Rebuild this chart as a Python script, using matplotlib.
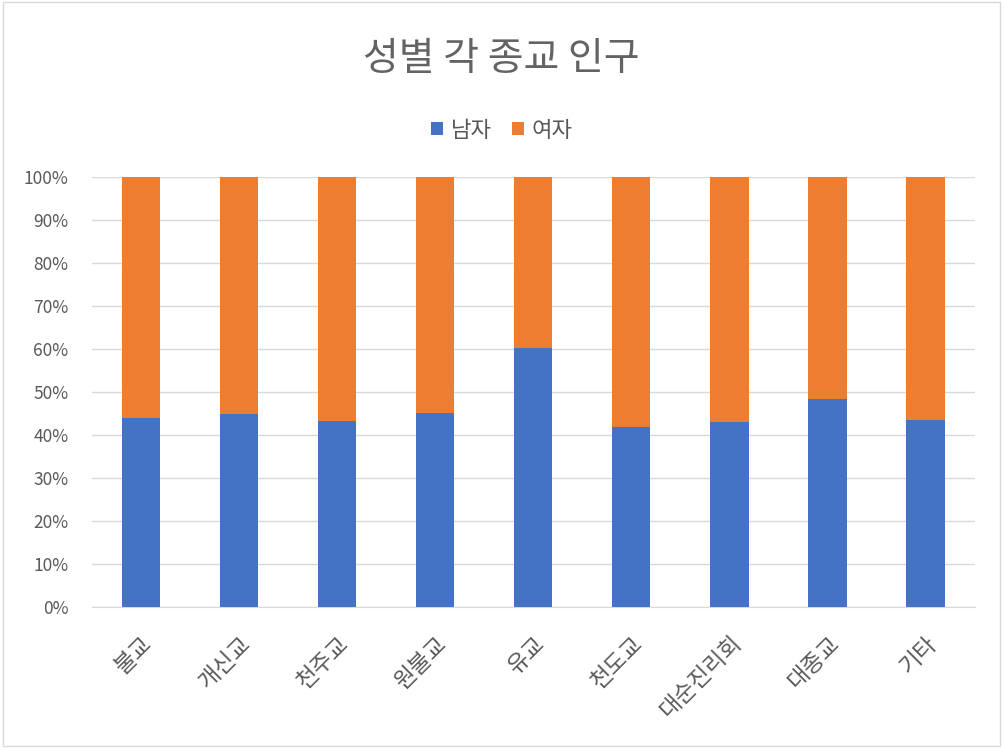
import matplotlib
matplotlib.use("Agg")
import matplotlib.pyplot as plt
from matplotlib.ticker import PercentFormatter
import numpy as np

plt.rcParams['font.family'] = ['Noto Sans CJK KR', 'DejaVu Sans']

religions = ["불교", "개신교", "천주교", "원불교", "유교", "천도교", "대순진리회", "대종교", "기타"]
male_pct = [43.9, 44.9, 43.3, 45.2, 60.2, 41.9, 43.1, 48.4, 43.5]
female_pct = [100 - v for v in male_pct]

blue = "#4472C4"
orange = "#ED7D31"
gray = "#595959"


def main():
    fig = plt.figure(figsize=(10.03, 7.48), dpi=100)
    ax = fig.add_axes([0.0917, 0.189, 0.880, 0.574])

    x = np.arange(len(religions))
    ax.bar(x, male_pct, width=0.39, color=blue, label="남자", zorder=3)
    ax.bar(x, female_pct, width=0.39, bottom=male_pct, color=orange, label="여자", zorder=3)

    ax.set_xlim(-0.5, len(religions) - 0.5)
    ax.set_ylim(0, 100)
    ax.set_yticks(np.arange(0, 101, 10))
    ax.yaxis.set_major_formatter(PercentFormatter(decimals=0))
    ax.grid(axis="y", color="#D9D9D9", lw=1, zorder=0)
    for s in ["top", "right", "left"]:
        ax.spines[s].set_visible(False)
    ax.spines["bottom"].set_color("#D9D9D9")
    ax.tick_params(axis="both", length=0, colors=gray, labelsize=12.5)
    ax.tick_params(axis="y", pad=17)
    ax.tick_params(axis="x", pad=18)
    ax.set_xticks(x)
    ax.set_xticklabels(religions, rotation=45, ha="right", rotation_mode="anchor",
                       fontsize=16.5)

    fig.text(0.5, 0.921, "성별 각 종교 인구", ha="center", va="center", fontsize=28,
             color="#636363")
    fig.legend(loc="center", bbox_to_anchor=(0.5, 0.826), ncol=2, frameon=False,
               prop={"size": 16}, handlelength=0.55, handleheight=0.55,
               columnspacing=0.9, handletextpad=0.35, labelcolor=gray)

    border = plt.Rectangle((0.003, 0.003), 0.994, 0.994, transform=fig.transFigure,
                           fill=False, edgecolor="#D9D9D9", lw=1)
    fig.patches.append(border)

    fig.savefig("out.png", dpi=100)


if __name__ == '__main__':
    main()
